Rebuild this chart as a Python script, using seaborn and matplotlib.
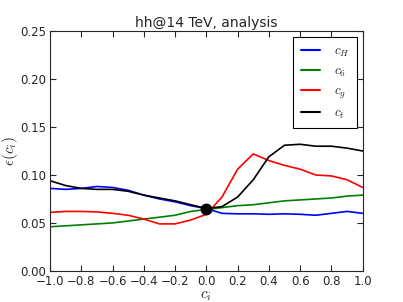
import numpy as np
import pandas as pd
import matplotlib
matplotlib.use('Agg')
import matplotlib.pyplot as plt
import seaborn as sns

# coupling values scanned
ci = [-1.0, -0.9, -0.8, -0.7, -0.6, -0.5, -0.4, -0.3, -0.2, -0.1, 0.0,
      0.1, 0.2, 0.3, 0.4, 0.5, 0.6, 0.7, 0.8, 0.9, 1.0]

eff_cH = [0.086, 0.085, 0.086, 0.088, 0.087, 0.084, 0.079, 0.075, 0.072, 0.068, 0.065,
          0.060, 0.0595, 0.0595, 0.059, 0.0595, 0.059, 0.058, 0.060, 0.062, 0.060]
eff_c6 = [0.046, 0.047, 0.048, 0.049, 0.050, 0.052, 0.054, 0.056, 0.058, 0.062, 0.064,
          0.066, 0.068, 0.069, 0.071, 0.073, 0.074, 0.075, 0.076, 0.078, 0.079]
eff_cg = [0.061, 0.062, 0.062, 0.0615, 0.060, 0.058, 0.054, 0.049, 0.049, 0.053, 0.059,
          0.077, 0.106, 0.122, 0.115, 0.110, 0.106, 0.100, 0.099, 0.095, 0.087]
eff_ct = [0.094, 0.089, 0.086, 0.085, 0.085, 0.083, 0.079, 0.076, 0.073, 0.069, 0.065,
          0.067, 0.077, 0.095, 0.119, 0.131, 0.132, 0.130, 0.130, 0.128, 0.125]

labels = ['$c_H$', '$c_6$', '$c_g$', '$c_t$']
colors = ['blue', 'green', 'red', 'black']

df = pd.concat([
    pd.DataFrame({'ci': ci, 'eff': vals, 'coupling': lab})
    for vals, lab in zip([eff_cH, eff_c6, eff_cg, eff_ct], labels)
])

sns.set_style('ticks')
plt.rcParams['font.family'] = ['DejaVu Sans']
plt.rcParams['mathtext.fontset'] = 'cm'

fig = plt.figure(figsize=(4.03, 3.02), dpi=100)
ax = fig.add_axes([0.124, 0.103, 0.776, 0.794])
sns.lineplot(data=df, x='ci', y='eff', hue='coupling', palette=colors,
             linewidth=1.2, ax=ax)
ax.plot([0.0], [eff_cH[10]], 'o', color='black', markersize=7.5, zorder=5)

ax.set_xlim(-1, 1)
ax.set_ylim(0, 0.25)
ax.set_xticks(np.arange(-1, 1.01, 0.2))
ax.set_yticks(np.arange(0, 0.251, 0.05))
ax.tick_params(direction='in', top=True, right=True, labelsize=8.5, length=4, pad=3)
for s in ax.spines.values():
    s.set_linewidth(0.8)
ax.set_xlabel('$c_i$', fontsize=11, labelpad=0)
ax.set_ylabel('$\\epsilon(c_i)$', fontsize=11, labelpad=0)
ax.set_title('hh@14 TeV, analysis', fontsize=10, pad=3)

leg = ax.legend(loc='upper right', fontsize=9.5, fancybox=False, framealpha=1,
                edgecolor='black', handlelength=1.5, labelspacing=0.45,
                borderpad=0.55, handletextpad=1.0, borderaxespad=0.45)
leg.get_frame().set_linewidth(0.8)
for h in leg.get_lines():
    h.set_linewidth(1.5)

plt.savefig('out.png', dpi=100)
